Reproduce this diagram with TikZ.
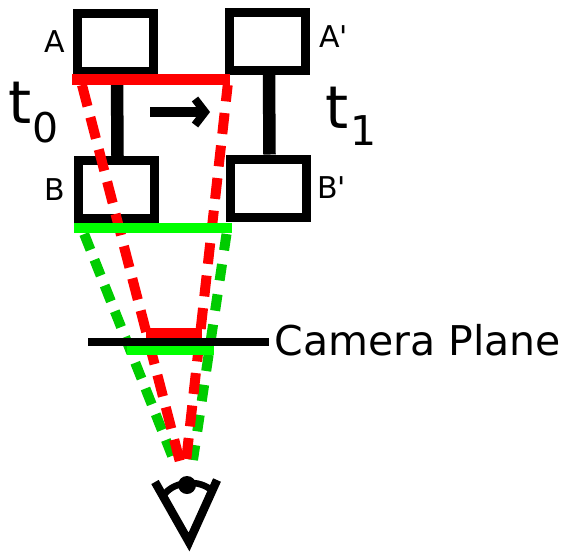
\documentclass[tikz,border=0pt]{standalone}
\usepackage{fontspec}
\setmainfont{DejaVu Sans}
\newfontfamily\plainsans{DejaVu Sans}
\definecolor{barred}{RGB}{255,0,0}
\definecolor{bargreen}{RGB}{0,255,0}
\definecolor{dashgreen}{RGB}{0,204,0}
\tikzset{
  objbox/.style={draw=black,line width=9pt,fill=none,rectangle,inner sep=0pt,minimum width=76pt,minimum height=58pt},
  stem/.style={black,line width=12.5pt},
  redbar/.style={barred,line width=11pt},
  greenbar/.style={bargreen,line width=10pt},
  reddash/.style={barred,line width=10pt,dash pattern=on 22pt off 11.3pt},
  reddashb/.style={barred,line width=10pt,dash pattern=on 21pt off 11.7pt,dash phase=4.5pt},
  greendash/.style={dashgreen,line width=10pt,dash pattern=on 17pt off 10.7pt},
  greendashb/.style={dashgreen,line width=10pt,dash pattern=on 16.5pt off 14pt},
  lab/.style={anchor=base west,inner sep=0pt,font=\plainsans\fontsize{30}{30}\selectfont},
  biglab/.style={anchor=base west,inner sep=0pt,font=\fontsize{41}{41}\selectfont},
  timelab/.style={anchor=base west,inner sep=0pt,font=\fontsize{59}{59}\selectfont},
  sublab/.style={anchor=base west,inner sep=0pt,font=\fontsize{41}{41}\selectfont},
}
\begin{document}
\begin{tikzpicture}[x=1pt,y=-1pt]
\useasboundingbox (0,0) rectangle (564,552);
% boxes
\node[objbox] (A) at (115.5,42.5) {};
\node[objbox] (Ap) at (267.5,41.5) {};
\node[objbox] (B) at (116,189.5) {};
\node[objbox] (Bp) at (268,188) {};
% stems
\draw[stem] ([xshift=1.5pt]A.south) -- ([xshift=1.5pt]B.north);
\draw[stem] ([xshift=1.5pt]Ap.south) -- ([xshift=1.5pt]Bp.north);
% motion arrow
\coordinate (m0) at (150,112);
\coordinate (m1) at (205,112);
\coordinate (h0) at (195,99);
\coordinate (h1) at (195,125);
\draw[black,line width=10pt] (m0) -- (m1);
\draw[black,line width=8pt,miter limit=10] (h0) -- (m1) -- (h1);
% frustum corners
\coordinate (rtl) at (82,85);
\coordinate (rtr) at (227.7,85);
\coordinate (rel) at (180,462);
\coordinate (rer) at (186,462);
\coordinate (gtl) at (84.2,234);
\coordinate (gtr) at (226.5,234);
\coordinate (gel) at (173,458);
\coordinate (ger) at (193,460);
% green frustum
\draw[greendash] (gtl) -- (gel);
\draw[greendashb] (gtr) -- (ger);
% red frustum
\draw[reddash] (rtl) -- (rel);
\draw[reddashb] (rtr) -- (rer);
% bars
\coordinate (a0) at (72,79);
\coordinate (a1) at (230,79);
\coordinate (b0) at (74,228);
\coordinate (b1) at (232,228);
\coordinate (c0) at (146,333);
\coordinate (c1) at (202,333);
\coordinate (d0) at (127,350);
\coordinate (d1) at (214,350);
\coordinate (p0) at (88,342);
\coordinate (p1) at (269,342);
\draw[redbar] (a0) -- (a1);
\draw[greenbar] (b0) -- (b1);
\draw[redbar] (c0) -- (c1);
\draw[greenbar] (d0) -- (d1);
\draw[black,line width=8pt] (p0) -- (p1);
% eye
\coordinate (e0) at (155,482);
\coordinate (e1) at (189,542);
\coordinate (e2) at (217,480);
\draw[black,line width=8.5pt,miter limit=10] (e0) -- (e1) -- (e2);
\coordinate (l0) at (164,495);
\coordinate (l1) at (210,489);
\draw[black,line width=6.5pt] (l0) .. controls (172,483) and (195,478) .. (l1);
\fill[black] (187,485) circle[radius=9pt];
% labels
\node[lab] (tA) at (44,52) {A};
\node[lab] (tAp) at (319,47) {A'};
\node[lab] (tB) at (44,200) {B};
\node[lab] (tBp) at (317,198) {B'};
\node[timelab] (t0) at (8,123) {t};
\node[sublab] (s0) at (32.5,142.5) {0};
\node[timelab] (t1) at (325.5,128) {t};
\node[sublab] (s1) at (350,145) {1};
\node[biglab] (cam) at (274.5,355) {Camera Plane};
\end{tikzpicture}
\end{document}
